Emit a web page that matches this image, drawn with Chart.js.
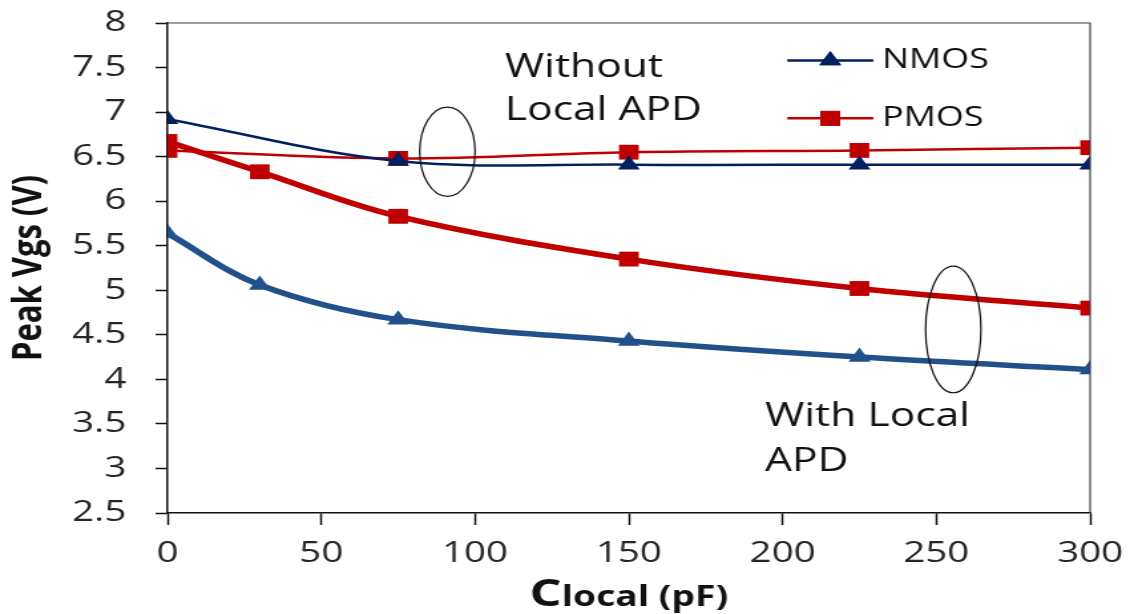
<!DOCTYPE html>
<html>
<head>
<meta charset="utf-8">
<script src="https://cdn.jsdelivr.net/npm/chart.js@4.4.0/dist/chart.umd.min.js"></script>
<style>
  html, body { margin: 0; padding: 0; background: #fff; overflow: hidden; }
  /* the source picture is stretched sideways, so the whole chart is drawn narrow and widened */
  #wrap { width: 850px; height: 614px; transform: scaleX(1.32941); transform-origin: 0 0; }
</style>
</head>
<body>
<div id="wrap"><canvas id="chart"></canvas></div>
<script>
// Capacitance values (pF)
const capWithout = [0, 75, 150, 225, 300];
const capWith = [0, 30, 75, 150, 225, 300];

// Peak Vgs (V)
const nmosWithout = [6.92, 6.45, 6.41, 6.41, 6.41];
const pmosWithout = [6.57, 6.48, 6.55, 6.57, 6.60];
const nmosWith = [5.64, 5.06, 4.67, 4.43, 4.25, 4.11];
const pmosWith = [6.67, 6.33, 5.83, 5.35, 5.02, 4.80];

const yTicks = [2.5, 3, 3.5, 4, 4.5, 5, 5.5, 6, 6.5, 7, 7.5, 8];
const xTicks = [0, 50, 100, 150, 200, 250, 300];

const NAVY = "#002060";
const BLUE = "#22508a";
const RED = "#c00000";
const FONT = "'Open Sans', sans-serif";

const pts = (xs, ys) => xs.map((x, i) => ({ x: x, y: ys[i] }));

// Ellipses, notes and legend drawn on top of the chart area
const decor = {
  id: "decor",
  afterDatasetsDraw(chart) {
    const { ctx, chartArea: a, scales: { x, y } } = chart;
    ctx.save();

    // frame on top and right
    ctx.strokeStyle = "#404040";
    ctx.lineWidth = 1.2;
    ctx.beginPath();
    ctx.moveTo(a.left, a.top);
    ctx.lineTo(a.right, a.top);
    ctx.lineTo(a.right, a.bottom);
    ctx.stroke();

    // ellipses marking the two groups
    ctx.strokeStyle = "#111";
    ctx.lineWidth = 1.2;
    [[91, 6.555, 9, 0.5], [255.5, 4.56, 9, 0.71]].forEach(([cx, cy, rx, ry]) => {
      const px = x.getPixelForValue(cx), py = y.getPixelForValue(cy);
      ctx.beginPath();
      ctx.ellipse(px, py,
        Math.abs(x.getPixelForValue(cx + rx) - px),
        Math.abs(y.getPixelForValue(cy + ry) - py), 0, 0, Math.PI * 2);
      ctx.stroke();
    });

    // notes
    ctx.fillStyle = "#111";
    ctx.font = "32px " + FONT;
    ctx.textAlign = "left";
    ctx.textBaseline = "alphabetic";
    ctx.fillText("Without", x.getPixelForValue(109.7), y.getPixelForValue(7.39));
    ctx.fillText("Local APD", x.getPixelForValue(109.7), y.getPixelForValue(6.91));
    ctx.fillText("With Local", x.getPixelForValue(194.3), y.getPixelForValue(3.48));
    ctx.fillText("APD", x.getPixelForValue(194.3), y.getPixelForValue(2.97));

    // legend for the two thin series
    const items = [chart.data.datasets[0], chart.data.datasets[1]];
    const rows = [7.58, 6.93];
    items.forEach((ds, i) => {
      const ly = y.getPixelForValue(rows[i]);
      const x0 = x.getPixelForValue(201.5), x1 = x.getPixelForValue(229.5);
      ctx.strokeStyle = ds.borderColor;
      ctx.lineWidth = 2.5;
      ctx.beginPath();
      ctx.moveTo(x0, ly);
      ctx.lineTo(x1, ly);
      ctx.stroke();
      Chart.helpers.drawPoint(ctx, {
        pointStyle: ds.pointStyle, radius: ds.pointRadius, borderWidth: 0
      }, (x0 + x1) / 2, ly);
      ctx.fillStyle = ds.backgroundColor;
      ctx.fill();
      ctx.fillStyle = "#111";
      ctx.font = "27px " + FONT;
      ctx.textBaseline = "middle";
      ctx.fillText(ds.label, x.getPixelForValue(232.3), ly);
    });
    ctx.restore();
  },
  afterDraw(chart) {
    // x axis title: large C followed by "local (pF)"
    const { ctx, chartArea: a } = chart;
    ctx.save();
    ctx.fillStyle = "#111";
    ctx.textBaseline = "alphabetic";
    const big = "bold 38px " + FONT, small = "bold 28px " + FONT;
    ctx.font = big;
    const wC = ctx.measureText("C").width;
    ctx.font = small;
    const wR = ctx.measureText("local (pF)").width;
    const start = (a.left + a.right) / 2 - (wC + wR) / 2;
    ctx.font = big;
    ctx.fillText("C", start, 606);
    ctx.font = small;
    ctx.fillText("local (pF)", start + wC, 606);
    ctx.restore();
  }
};

new Chart(document.getElementById("chart"), {
  type: "line",
  data: {
    datasets: [
      {
        label: "NMOS", data: pts(capWithout, nmosWithout),
        borderColor: NAVY, backgroundColor: NAVY, borderWidth: 2.5,
        pointStyle: "triangle", pointRadius: 9.5, pointBorderWidth: 0, tension: 0.35
      },
      {
        label: "PMOS", data: pts(capWithout, pmosWithout),
        borderColor: RED, backgroundColor: RED, borderWidth: 2.5,
        pointStyle: "rect", pointRadius: 10.5, pointBorderWidth: 0, tension: 0.35
      },
      {
        label: "NMOS with local APD", data: pts(capWith, nmosWith),
        borderColor: BLUE, backgroundColor: BLUE, borderWidth: 5.5,
        pointStyle: "triangle", pointRadius: 9.5, pointBorderWidth: 0, tension: 0.35
      },
      {
        label: "PMOS with local APD", data: pts(capWith, pmosWith),
        borderColor: RED, backgroundColor: RED, borderWidth: 5.5,
        pointStyle: "rect", pointRadius: 10.5, pointBorderWidth: 0, tension: 0.35
      }
    ]
  },
  options: {
    responsive: true,
    maintainAspectRatio: false,
    animation: false,
    layout: { padding: { top: 23, right: 30, left: 0, bottom: 0 } },
    plugins: {
      legend: { display: false },
      tooltip: { enabled: false }
    },
    scales: {
      x: {
        type: "linear", min: 0, max: 300,
        afterBuildTicks: s => { s.ticks = xTicks.map(v => ({ value: v })); },
        afterFit: s => { s.height = 101; s.paddingLeft = 10; s.paddingRight = 10; },
        grid: { drawOnChartArea: false, drawTicks: true, tickLength: 12, tickWidth: 1.5, tickColor: "#111" },
        border: { display: true, color: "#111", width: 1.5 },
        ticks: { color: "#262626", padding: 11, maxRotation: 0, font: { family: FONT, size: 29 },
                 callback: v => String(v) }
      },
      y: {
        min: 2.5, max: 8,
        afterBuildTicks: s => { s.ticks = yTicks.map(v => ({ value: v })); },
        afterFit: s => { s.width = 126; s.paddingTop = 10; s.paddingBottom = 10; },
        grid: { drawOnChartArea: false, drawTicks: true, tickLength: 9, tickWidth: 1.5, tickColor: "#111" },
        border: { display: true, color: "#111", width: 1.5 },
        ticks: { color: "#262626", padding: 22, font: { family: FONT, size: 29 },
                 callback: v => String(v) },
        title: { display: true, text: "Peak Vgs (V)", color: "#111", padding: { top: 4, bottom: 0 },
                 font: { family: FONT, size: 31, weight: "bold" } }
      }
    }
  },
  plugins: [decor]
});
</script>
</body>
</html>
